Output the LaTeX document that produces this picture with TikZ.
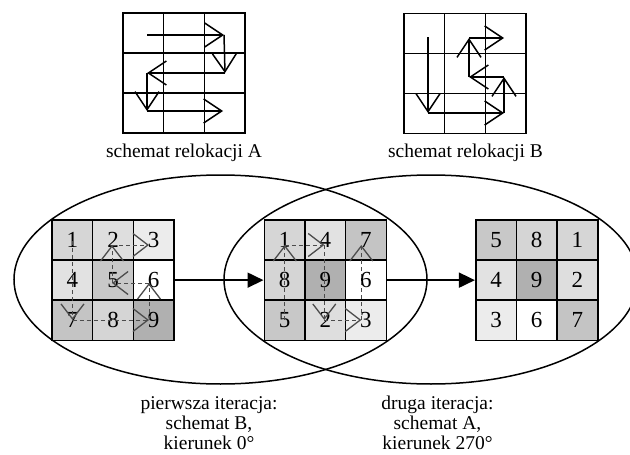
\documentclass[tikz,border=0pt]{standalone}
\usepackage{fontspec}
\setmainfont{Liberation Serif}
\usetikzlibrary{arrows.meta,shapes.geometric}
\definecolor{n1}{gray}{0.84}
\definecolor{n2}{gray}{0.87}
\definecolor{n3}{gray}{0.925}
\definecolor{n4}{gray}{0.885}
\definecolor{n5}{gray}{0.785}
\definecolor{n6}{gray}{1.0}
\definecolor{n7}{gray}{0.77}
\definecolor{n8}{gray}{0.835}
\definecolor{n9}{gray}{0.69}
\definecolor{dgray}{gray}{0.3}
\tikzset{
  cellbox/.style={draw=black, line width=1.6pt, minimum width=40.7pt, minimum height=40.1pt, inner sep=0pt, font=\fontsize{23}{23}\selectfont},
  blobb/.style={draw=black, line width=1.5pt, ellipse, minimum width=413pt, minimum height=209pt, inner sep=0pt},
  schemearrow/.style={line width=1.5pt, -{Straight Barb[length=18pt,width=24pt,line width=1.5pt]}},
  movearrow/.style={dgray, line width=1pt, dash pattern=on 4pt off 3pt, -{Straight Barb[length=15pt,width=23pt,line width=1.3pt]}},
  mainarrow/.style={line width=1.8pt, -{Triangle[length=16pt,width=15pt]}},
  lbl/.style={font=\fontsize{19.5}{20}\selectfont, align=center, inner sep=0pt},
  schemegrid/.style={line width=1.3pt}
}
\begin{document}
\begin{tikzpicture}[x=1pt,y=-1pt]
\useasboundingbox (0,0) rectangle (630,455);
% ellipses
\node[blobb] (e1) at (220.5,279.5) {};
\node[blobb, minimum width=414pt] (e2) at (431,279.5) {};
% top scheme grids
\foreach \L/\T in {123/13, 404/13.5}{
  \draw[schemegrid] (\L,\T) rectangle ++(122,120);
  \draw[schemegrid] (\L+40.67,\T) -- ++(0,120);
  \draw[schemegrid] (\L+81.33,\T) -- ++(0,120);
  \draw[schemegrid] (\L,\T+40) -- ++(122,0);
  \draw[schemegrid] (\L,\T+80) -- ++(122,0);
}
% scheme A path
\coordinate (A1) at (147,35);
\coordinate (A2) at (224,35);
\coordinate (A3) at (225,73);
\coordinate (A4) at (147,73);
\coordinate (A5) at (147,111);
\coordinate (A6) at (223,111);
\draw[schemearrow] (A1) -- (A2);
\draw[schemearrow] (A2) -- (A3);
\draw[schemearrow] (A3) -- (A4);
\draw[schemearrow] (A4) -- (A5);
\draw[schemearrow] (A5) -- (A6);
% scheme B path
\coordinate (B1) at (428,37);
\coordinate (B2) at (428,113);
\coordinate (B3) at (504,113);
\coordinate (B4) at (504,77);
\coordinate (B5) at (469,77);
\coordinate (B6) at (469,38);
\coordinate (B7) at (504,38);
\draw[schemearrow] (B1) -- (B2);
\draw[schemearrow] (B2) -- (B3);
\draw[schemearrow] (B3) -- (B4);
\draw[schemearrow] (B4) -- (B5);
\draw[schemearrow] (B5) -- (B6);
\draw[schemearrow] (B6) -- (B7);
\node[lbl, anchor=base] (la) at (184,157.5) {schemat relokacji A};
\node[lbl, anchor=base] (lb) at (465.5,157.5) {schemat relokacji B};
% grid cells: G/left/list of numbers (row-wise)
\foreach \g/\L/\nums in {a/52/{1,2,3,4,5,6,7,8,9}, b/264.3/{1,4,7,8,9,6,5,2,3}, c/475.7/{5,8,1,4,9,2,3,6,7}}{
  \foreach \n [count=\k from 0] in \nums {
    \pgfmathtruncatemacro{\col}{mod(\k,3)}
    \pgfmathtruncatemacro{\row}{div(\k,3)}
    \node[cellbox, fill=n\n] (\g\n) at ({\L+20.35+40.67*\col},{220+20.05+40.1*\row}) {\raisebox{-2.5pt}{\n}};
  }
  \foreach \i/\x in {0/20.5,1/60,2/97}{
    \foreach \j/\y in {0/25,1/63,2/100}{
      \coordinate (\g-\i\j) at ({\L+\x},{220+\y});
    }
  }
}
% first grid moves (scheme B)
\draw[movearrow] ([yshift=4pt]a-00) -- (a-02);
\draw[movearrow] (a-02) -- (a-22);
\draw[movearrow] (a-22) -- (a-21);
\draw[movearrow] (a-21) -- (a-11);
\draw[movearrow] (a-11) -- (a-10);
\draw[movearrow] (a-10) -- (a-20);
% second grid moves (scheme A)
\draw[movearrow] (b-02) -- (b-00);
\draw[movearrow] (b-00) -- (b-10);
\draw[movearrow] (b-10) -- (b-12);
\draw[movearrow] (b-12) -- (b-22);
\draw[movearrow] (b-22) -- (b-20);
% main arrows
\draw[mainarrow] (a6.east) -- (b8.west);
\draw[mainarrow] (b6.east) -- (c4.west);
% bottom labels
\node[lbl, anchor=north] (l1) at (209,396) {pierwsza iteracja:\\schemat B,\\kierunek 0\textdegree};
\node[lbl, anchor=north] (l2) at (437.5,396) {druga iteracja:\\schemat A,\\kierunek 270\textdegree};
\end{tikzpicture}
\end{document}
